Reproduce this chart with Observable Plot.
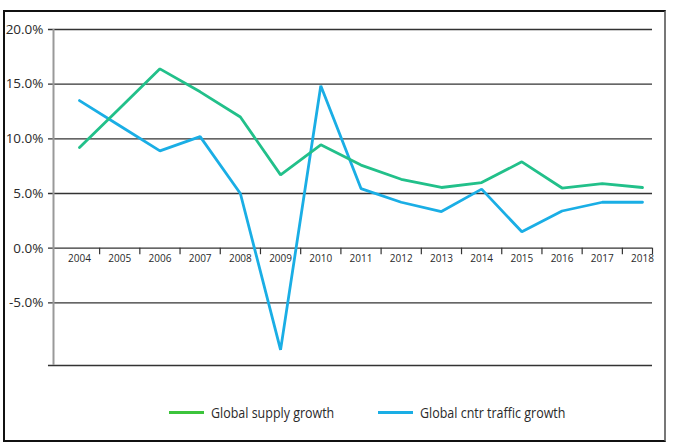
<!DOCTYPE html>
<html>
<head>
<meta charset="utf-8">
<script src="https://cdn.jsdelivr.net/npm/d3@7"></script>
<script src="https://cdn.jsdelivr.net/npm/@observablehq/plot@0.6"></script>
<style>
  html, body { margin: 0; padding: 0; background: #fff; }
  #wrap { position: relative; width: 684px; height: 446px; overflow: hidden; font-family: "Open Sans", sans-serif; }
  #frame { position: absolute; left: 3px; top: 10px; width: 663px; height: 432px; box-sizing: border-box;
           border: 2px solid #111; border-right-color: #777; }
  #chart { position: absolute; left: 0; top: 0; }
  .leg { position: absolute; top: 401px; height: 22px; display: flex; align-items: center; font-size: 14.5px; color: #2a2a2a; }
  .sw { width: 35px; height: 3px; margin-right: 7px; }
  .lt { display: inline-block; transform: scaleX(0.86); transform-origin: left center; white-space: nowrap; }
</style>
</head>
<body>
<div id="wrap">
  <div id="frame"></div>
  <div id="chart"></div>
  <div class="leg" style="left:169px"><span class="sw" style="background:#3cc43c"></span><span class="lt">Global supply growth</span></div>
  <div class="leg" style="left:378px"><span class="sw" style="background:#1aaee5"></span><span class="lt">Global cntr traffic growth</span></div>
</div>
<script>
const years = [2004, 2005, 2006, 2007, 2008, 2009, 2010, 2011, 2012, 2013, 2014, 2015, 2016, 2017, 2018];
const supplyGrowth = [9.2, 12.8, 16.4, 14.3, 12.0, 6.7, 9.45, 7.6, 6.3, 5.55, 6.0, 7.9, 5.5, 5.9, 5.55];
const trafficGrowth = [13.5, 11.2, 8.9, 10.2, 5.0, -9.3, 14.85, 5.45, 4.2, 3.35, 5.4, 1.5, 3.4, 4.2, 4.2];
const yTicks = [20, 15, 10, 5, 0, -5];
const yMin = -10.73, yMax = 20;
const xMin = 2003.353, xMax = 2018.249;

const supply = years.map((y, i) => ({year: y, value: supplyGrowth[i]}));
const traffic = years.map((y, i) => ({year: y, value: trafficGrowth[i]}));
const gridVals = yTicks.concat([yMin]);
const sepTicks = years.slice(0, -1).map(y => y + 0.5).concat([xMax]);

const chart = Plot.plot({
  width: 684,
  height: 380,
  marginTop: 29,
  marginBottom: 15,
  marginLeft: 53,
  marginRight: 32,
  x: {domain: [xMin, xMax], axis: null},
  y: {domain: [yMin, yMax], axis: null},
  style: {fontFamily: "Open Sans, sans-serif", background: "transparent", overflow: "visible"},
  marks: [
    Plot.ruleY(gridVals, {y: d => d, x1: xMin - 0.125, x2: xMax, stroke: "#333", strokeWidth: 1.3}),
    Plot.ruleX([xMin], {y1: yMin, y2: yMax, stroke: "#999", strokeWidth: 2}),
    Plot.ruleX(sepTicks, {x: d => d, y1: 0, y2: -0.6, stroke: "#333", strokeWidth: 1.2}),
    Plot.text(yTicks, {x: xMin, y: d => d, text: d => d.toFixed(1) + "%", textAnchor: "end", dx: -10, fontSize: 13.5, fill: "#2a2a2a"}),
    Plot.text(years, {x: d => d, y: 0, text: d => String(d), dy: 11, fontSize: 10, fill: "#2a2a2a"}),
    Plot.line(traffic, {x: "year", y: "value", stroke: "#1aaee5", strokeWidth: 2.8, strokeLinejoin: "miter"}),
    Plot.line(supply, {x: "year", y: "value", stroke: "#22c08a", strokeWidth: 2.8, strokeLinejoin: "miter"})
  ]
});
document.getElementById("chart").appendChild(chart);
</script>
</body>
</html>
